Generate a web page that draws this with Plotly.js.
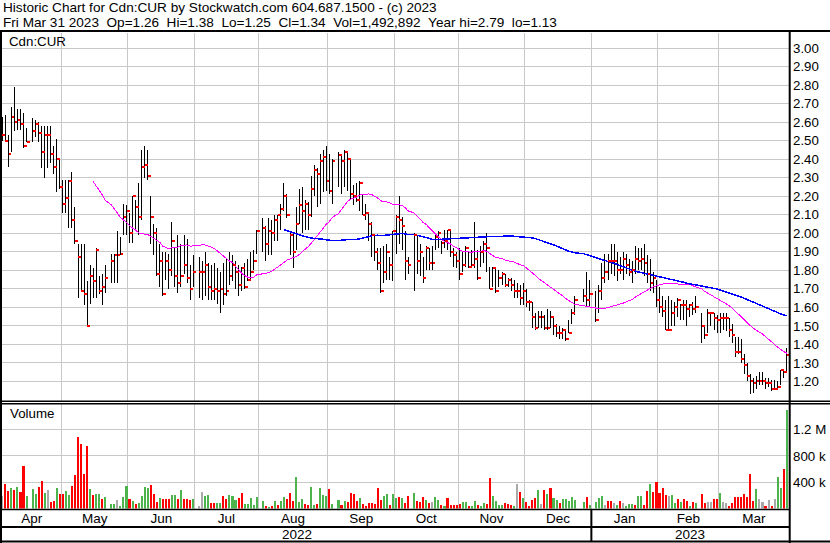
<!DOCTYPE html>
<html><head><meta charset="utf-8">
<script src="https://cdn.plot.ly/plotly-3.0.1.min.js"></script>
<style>html,body{margin:0;padding:0;background:#fff;}#chart{width:830px;height:543px;}
#chart .scatterlayer .js-line{shape-rendering:crispEdges;}
#chart .barlayer path{shape-rendering:crispEdges;}
</style>
</head><body><div id="chart"></div>
<script>
// ---------- data ----------
const startDate = '2022-04-04', endDate = '2023-03-31';
const holidays = ['2022-04-15','2022-05-23','2022-07-01','2022-08-01','2022-09-05','2022-10-10','2022-12-26','2022-12-27','2023-01-02','2023-02-20'];
const monthLabels = ['Apr','May','Jun','Jul','Aug','Sep','Oct','Nov','Dec','Jan','Feb','Mar'];
const yearLabels = ['2022','2023'];

const high = [
2.63,2.64,2.53,2.68,2.79,2.67,2.67,2.65,2.57,2.62,2.61,2.60,2.58,2.58,2.58,2.58,2.47,2.51,2.40,
2.29,2.29,2.29,2.33,2.14,1.94,1.94,1.94,1.74,1.83,1.81,1.92,1.77,1.78,1.83,1.89,1.89,2.01,1.98,2.16,2.15,
2.11,2.20,2.18,2.27,2.45,2.47,2.45,2.20,2.05,2.03,1.94,1.90,1.90,1.89,2.06,1.92,1.99,1.94,1.99,1.97,1.83,1.88,
1.87,1.85,1.90,1.84,1.83,1.84,1.81,1.79,1.84,1.86,1.90,1.88,1.85,1.83,1.82,1.84,1.86,1.90,1.91,2.02,
2.08,2.04,2.08,2.07,2.10,2.10,2.16,2.27,2.21,2.01,2.00,2.14,2.24,2.25,2.18,2.17,2.31,2.37,2.35,2.43,2.45,2.47,
2.43,2.40,2.44,2.42,2.45,2.44,2.40,2.26,2.27,2.28,2.21,2.16,2.11,2.06,1.99,1.92,1.92,1.93,1.94,1.87,2.01,
2.10,2.20,2.09,2.01,1.87,2.00,1.99,1.94,1.87,1.93,1.92,1.93,2.00,2.01,1.96,2.02,2.02,2.02,1.92,1.90,
1.92,1.90,1.93,1.90,1.91,2.06,1.91,1.93,1.96,2.00,1.82,1.82,1.81,1.80,1.79,1.78,1.76,1.76,1.75,1.73,1.72,1.73,
1.70,1.64,1.63,1.57,1.58,1.58,1.56,1.59,1.58,1.55,1.51,1.50,1.49,1.48,1.53,1.59,1.66,1.70,1.79,1.75,
1.69,1.72,1.84,1.89,1.89,1.94,1.94,1.90,1.87,1.90,1.89,1.86,1.85,1.93,1.92,1.92,1.94,1.88,1.86,1.79,1.75,
1.71,1.66,1.64,1.66,1.64,1.63,1.65,1.62,1.64,1.64,1.62,1.63,1.66,1.57,1.50,1.59,1.57,1.57,1.56,
1.57,1.57,1.57,1.54,1.51,1.44,1.44,1.43,1.35,1.30,1.24,1.22,1.23,1.25,1.25,1.22,1.22,1.21,1.21,1.20,1.26,1.26,1.38
];
const low = [
2.50,2.50,2.36,2.44,2.55,2.56,2.56,2.46,2.49,2.49,2.52,2.49,2.35,2.30,2.35,2.38,2.32,2.22,2.24,
2.11,2.11,2.03,2.03,1.94,1.65,1.69,1.61,1.50,1.62,1.65,1.65,1.67,1.61,1.68,1.73,1.73,1.73,1.88,1.99,1.99,
1.95,1.95,2.01,1.99,2.07,2.30,2.29,1.94,1.88,1.77,1.71,1.66,1.75,1.70,1.77,1.71,1.68,1.71,1.78,1.73,1.64,1.71,
1.65,1.64,1.66,1.64,1.64,1.64,1.62,1.57,1.61,1.66,1.72,1.74,1.70,1.66,1.69,1.70,1.74,1.74,1.80,1.89,
1.90,1.85,1.88,1.88,1.96,1.96,2.02,2.12,2.08,1.88,1.81,1.91,2.05,2.00,2.02,2.02,2.09,2.20,2.14,2.16,2.22,2.23,
2.21,2.16,2.25,2.21,2.25,2.23,2.18,2.15,2.17,2.12,2.10,2.07,1.96,1.87,1.85,1.80,1.68,1.73,1.75,1.75,1.74,
1.89,1.94,1.91,1.75,1.78,1.69,1.78,1.77,1.73,1.80,1.80,1.80,1.91,1.92,1.89,1.92,1.91,1.87,1.82,1.81,
1.75,1.79,1.82,1.81,1.81,1.81,1.75,1.82,1.84,1.79,1.70,1.71,1.68,1.71,1.72,1.71,1.71,1.69,1.65,1.65,1.61,1.61,
1.60,1.58,1.49,1.48,1.49,1.49,1.48,1.48,1.49,1.45,1.44,1.43,1.43,1.42,1.46,1.51,1.56,1.63,1.60,1.60,
1.52,1.57,1.64,1.73,1.75,1.78,1.77,1.74,1.78,1.75,1.78,1.77,1.73,1.78,1.80,1.80,1.77,1.73,1.69,1.68,1.60,
1.57,1.55,1.48,1.48,1.50,1.50,1.55,1.53,1.53,1.50,1.55,1.56,1.57,1.41,1.43,1.46,1.50,1.48,1.46,
1.46,1.48,1.47,1.44,1.41,1.33,1.35,1.30,1.24,1.20,1.13,1.14,1.16,1.18,1.18,1.16,1.17,1.15,1.16,1.16,1.18,1.22,1.25
];
const close = [
2.53,2.50,2.43,2.63,2.60,2.61,2.59,2.47,2.49,2.55,2.59,2.54,2.44,2.53,2.53,2.43,2.36,2.40,2.25,
2.16,2.19,2.28,2.07,1.96,1.87,1.69,1.67,1.50,1.77,1.74,1.91,1.69,1.71,1.76,1.85,1.88,1.88,1.89,2.09,2.12,
2.00,2.20,2.14,2.09,2.36,2.37,2.31,2.09,2.00,1.78,1.85,1.67,1.85,1.80,1.96,1.77,1.73,1.77,1.83,1.76,1.70,1.79,
1.79,1.79,1.83,1.71,1.69,1.70,1.69,1.70,1.67,1.69,1.77,1.83,1.79,1.72,1.81,1.71,1.75,1.79,1.85,2.01,
2.03,1.94,2.01,2.00,2.07,2.10,2.13,2.20,2.10,1.99,1.90,2.05,2.15,2.12,2.16,2.10,2.24,2.34,2.32,2.39,2.41,2.28,
2.23,2.39,2.42,2.39,2.44,2.40,2.21,2.20,2.18,2.27,2.10,2.11,2.05,1.99,1.90,1.84,1.69,1.79,1.90,1.83,2.01,
2.09,2.07,2.04,1.85,1.83,1.99,1.85,1.90,1.76,1.92,1.84,1.84,1.98,2.00,1.95,1.96,2.02,1.90,1.88,1.85,
1.78,1.83,1.92,1.82,1.83,1.86,1.76,1.90,1.94,1.92,1.70,1.81,1.69,1.76,1.78,1.72,1.75,1.72,1.69,1.69,1.65,1.69,
1.63,1.63,1.55,1.49,1.55,1.55,1.49,1.49,1.55,1.50,1.46,1.46,1.48,1.43,1.46,1.57,1.64,1.66,1.64,1.67,
1.53,1.69,1.76,1.79,1.85,1.85,1.85,1.80,1.80,1.86,1.83,1.79,1.80,1.86,1.85,1.86,1.84,1.78,1.73,1.76,1.64,
1.60,1.58,1.48,1.48,1.57,1.60,1.64,1.61,1.61,1.59,1.61,1.59,1.60,1.50,1.45,1.57,1.57,1.54,1.53,
1.54,1.54,1.54,1.48,1.45,1.36,1.36,1.32,1.29,1.23,1.20,1.19,1.20,1.20,1.20,1.19,1.19,1.16,1.16,1.17,1.26,1.25,1.34
];
// volume in thousands of shares
const volumeK = [
190,375,272,313,282,328,251,651,190,298,221,328,421,236,282,97,113,313,221,
221,267,205,344,513,1082,975,528,944,298,205,221,226,144,180,67,62,128,36,174,344,
144,113,67,82,190,328,313,359,221,97,159,144,144,144,205,205,144,282,144,144,128,144,
36,251,190,205,82,82,82,82,190,144,205,190,128,159,236,67,67,159,51,174,
113,36,20,36,113,51,113,174,144,236,113,482,97,144,67,51,328,51,67,313,205,190,
298,72,128,51,113,97,236,221,113,159,67,36,82,82,67,313,128,190,221,51,221,
159,174,159,82,190,236,113,97,174,128,82,97,174,128,51,40,159,51,51,51,
67,97,97,40,40,113,51,40,82,67,467,190,113,51,51,82,67,51,40,374,251,159,
97,36,128,159,282,67,282,221,313,159,128,82,144,144,113,174,128,97,174,51,
97,159,190,51,113,113,82,51,113,82,40,67,67,51,190,190,51,267,374,251,400,
231,318,205,190,205,82,144,97,144,113,40,97,82,226,82,97,97,144,144,
236,97,82,40,82,174,174,174,221,174,528,113,298,144,97,36,128,36,144,482,313,605,1492.892
];
// volume bar colour: g = up, r = down, n = unchanged
const volDir = [
'n','r','r','g','r','g','r','r','g','g','g','r','r','g','n','r','r','g','r',
'r','g','g','r','r','r','r','r','r','g','r','g','g','r','g','g','g','n','g','g','g',
'r','g','r','g','g','g','g','r','r','r','g','r','r','r','g','g','r','g','r','r','r','g',
'n','n','g','g','r','r','g','g','r','r','g','g','g','r','r','g','g','g','g','g',
'g','r','g','r','g','r','g','g','r','r','r','g','g','g','r','r','g','g','r','g','g','g',
'r','g','g','r','g','r','r','r','r','g','r','r','r','r','r','r','r','g','g','r','g',
'g','r','g','r','r','g','r','r','r','g','r','n','g','g','r','g','r','r','r','r',
'r','g','g','r','g','g','r','g','g','r','r','g','g','g','g','r','r','r','g','n','r','g',
'r','r','r','r','g','n','r','g','r','g','g','r','g','g','g','g','g','g','r','g',
'g','g','g','n','r','r','n','g','r','n','g','g','g','r','g','g','r','r','g','r','r',
'r','r','r','n','g','g','r','g','r','r','g','r','g','r','r','n','n','r','r',
'g','n','n','r','r','r','r','r','r','r','r','r','g','n','n','r','n','r','n','g','g','r','g'
];
const priceTicks = [1.2,1.3,1.4,1.5,1.6,1.7,1.8,1.9,2.0,2.1,2.2,2.3,2.4,2.5,2.6,2.7,2.8,2.9,3.0];
const volTicks = [400,800,1200], volTickText = ['400 k','800 k','1.2 M'];
const maShort = 30, maLong = 90;
const header1 = 'Historic Chart for Cdn:CUR by Stockwatch.com 604.687.1500 - (c) 2023';
const header2 = 'Fri Mar 31 2023  Op=1.26  Hi=1.38  Lo=1.25  Cl=1.34  Vol=1,492,892  Year hi=2.79  lo=1.13';

// ---------- x positions: one slot per weekday, holidays leave gaps ----------
const weekdays = [];
const xs = [];
{
  let wi = 0;
  const end = new Date(endDate + 'T00:00:00Z');
  for (let d = new Date(startDate + 'T00:00:00Z'); d <= end; d.setUTCDate(d.getUTCDate() + 1)) {
    const dow = d.getUTCDay();
    if (dow === 0 || dow === 6) continue;
    const s = d.toISOString().slice(0, 10);
    weekdays.push({wi, s});
    if (!holidays.includes(s)) xs.push(wi);
    wi++;
  }
}
const xRange = [-0.1, weekdays[weekdays.length - 1].wi + 0.76];
const boundaries = [];
let yearBoundary = null;
for (let k = 1; k < weekdays.length; k++) {
  if (weekdays[k].s.slice(0, 7) !== weekdays[k - 1].s.slice(0, 7)) {
    const b = (weekdays[k].wi + weekdays[k - 1].wi) / 2;
    boundaries.push(b);
    if (weekdays[k].s.slice(0, 4) !== weekdays[k - 1].s.slice(0, 4)) yearBoundary = b;
  }
}
const edges = [xRange[0], ...boundaries, xRange[1]];
const monthCenters = monthLabels.map((_, i) => (edges[i] + edges[i + 1]) / 2);
const yearCenters = [(xRange[0] + yearBoundary) / 2, (yearBoundary + xRange[1]) / 2];

// ---------- traces ----------
const hlX = [], hlY = [], cX = [], cY = [];
xs.forEach((x, k) => {
  hlX.push(x, x, null); hlY.push(low[k], high[k], null);
  cX.push(x + 0.05, x + 1.0, null); cY.push(close[k], close[k], null);
});
function sma(arr, n) {
  return arr.map((v, i) => {
    if (i < n - 1) return null;
    let s = 0; for (let j = i - n + 1; j <= i; j++) s += arr[j];
    return s / n;
  });
}
const colMap = {g: '#4db34d', r: '#ff0000', n: '#a9a9a9'};

const traces = [
  {type: 'scatter', mode: 'lines', x: hlX, y: hlY, xaxis: 'x', yaxis: 'y', line: {color: '#000', width: 1}, hoverinfo: 'skip', connectgaps: false},
  {type: 'scatter', mode: 'lines', x: xs, y: sma(close, maShort), xaxis: 'x', yaxis: 'y', line: {color: '#ff00ff', width: 1}},
  {type: 'scatter', mode: 'lines', x: xs, y: sma(close, maLong), xaxis: 'x', yaxis: 'y', line: {color: '#0000ff', width: 1.5}},
  {type: 'scatter', mode: 'lines', x: cX, y: cY, xaxis: 'x', yaxis: 'y', line: {color: '#ff0000', width: 2}, hoverinfo: 'skip', connectgaps: false},
  {type: 'bar', x: xs, y: volumeK, xaxis: 'x', yaxis: 'y2', width: 0.68, marker: {color: volDir.map(d => colMap[d]), line: {width: 0}}}
];

// ---------- layout ----------
const W = 830, H = 543, ML = 2, MR = 41, MT = 33, MB = 34;
const pw = W - ML - MR, ph = H - MT - MB;
const px = p => (p - ML) / pw;          // pixel x -> paper
const py = p => (H - MB - p) / ph;      // pixel y -> paper
const FONT = 'Arial, "Liberation Sans", sans-serif';
const blk = (x0, y0, x1, y1, w) => ({type: 'line', xref: 'paper', yref: 'paper', x0: px(x0), x1: px(x1), y0: py(y0), y1: py(y1), line: {color: '#000', width: w}, layer: 'above'});

const layout = {
  width: W, height: H,
  margin: {l: ML, r: MR, t: MT, b: MB, pad: 0},
  paper_bgcolor: '#fff', plot_bgcolor: '#fff', showlegend: false,
  font: {family: FONT, size: 13.3, color: '#000'},
  bargap: 0,
  xaxis: {
    range: xRange, anchor: 'y2', tickmode: 'array', tickvals: monthCenters, ticktext: monthLabels,
    showgrid: false, zeroline: false, showline: false, ticks: '', tickfont: {size: 13.5, color: '#000'},
    ticklabelstandoff: 0,
    minor: {tickmode: 'array', tickvals: boundaries, showgrid: true, gridcolor: '#c8c8c8', gridwidth: 1, ticks: ''}
  },
  yaxis: {
    domain: [py(400.5), 1], range: [1.097, 3.081], side: 'right', anchor: 'x',
    tickmode: 'array', tickvals: priceTicks, ticktext: priceTicks.map(v => v.toFixed(2)),
    showgrid: true, gridcolor: '#c8c8c8', gridwidth: 1, zeroline: false, showline: false, ticks: '',
    tickfont: {size: 13.3, color: '#000'}, ticklabelstandoff: 3
  },
  yaxis2: {
    domain: [py(508.5), py(403.5)], range: [0, 1597], side: 'right', anchor: 'x',
    tickmode: 'array', tickvals: volTicks, ticktext: volTickText,
    showgrid: true, gridcolor: '#c8c8c8', gridwidth: 1, zeroline: false, showline: false, ticks: '',
    tickfont: {size: 13.3, color: '#000'}, ticklabelstandoff: 3
  },
  shapes: [
    blk(0, 31, 830, 31, 2),          // under header
    blk(1, 31, 1, 543, 2),           // left border
    blk(789.7, 31, 789.7, 543, 2),   // right border of chart
    blk(0, 401.2, 830, 401.2, 1.5),  // bottom of price panel
    blk(0, 403.8, 830, 403.8, 1.5),  // top of volume panel
    blk(0, 509.4, 790, 509.4, 1.5),  // bottom of volume panel
    blk(0, 527, 790, 527, 2),        // under month row
    blk(0, 541.5, 830, 541.5, 2),    // bottom border
    {type: 'line', xref: 'x', yref: 'paper', x0: yearBoundary, x1: yearBoundary, y0: py(509), y1: py(542), line: {color: '#000', width: 2}, layer: 'above'}
  ],
  annotations: [
    {text: header1, xref: 'paper', yref: 'paper', x: px(1), y: py(7.5), xanchor: 'left', yanchor: 'middle', showarrow: false, font: {size: 13.6, color: '#000'}},
    {text: header2.replace(/ /g, '\u00a0'), xref: 'paper', yref: 'paper', x: px(1), y: py(22.5), xanchor: 'left', yanchor: 'middle', showarrow: false, font: {size: 13.6, color: '#000'}},
    {text: 'Cdn:CUR', xref: 'paper', yref: 'paper', x: px(7), y: py(41.5), xanchor: 'left', yanchor: 'middle', showarrow: false, font: {size: 13.3, color: '#000'}},
    {text: 'Volume', xref: 'paper', yref: 'paper', x: px(8), y: py(413), xanchor: 'left', yanchor: 'middle', showarrow: false, font: {size: 13.3, color: '#000'}},
    ...yearLabels.map((t, i) => ({text: t, xref: 'x', yref: 'paper', x: yearCenters[i], y: py(534.5), xanchor: 'center', yanchor: 'middle', showarrow: false, font: {size: 13.5, color: '#000'}}))
  ]
};

Plotly.newPlot('chart', traces, layout, {displayModeBar: false, staticPlot: true});
</script>
</body></html>
